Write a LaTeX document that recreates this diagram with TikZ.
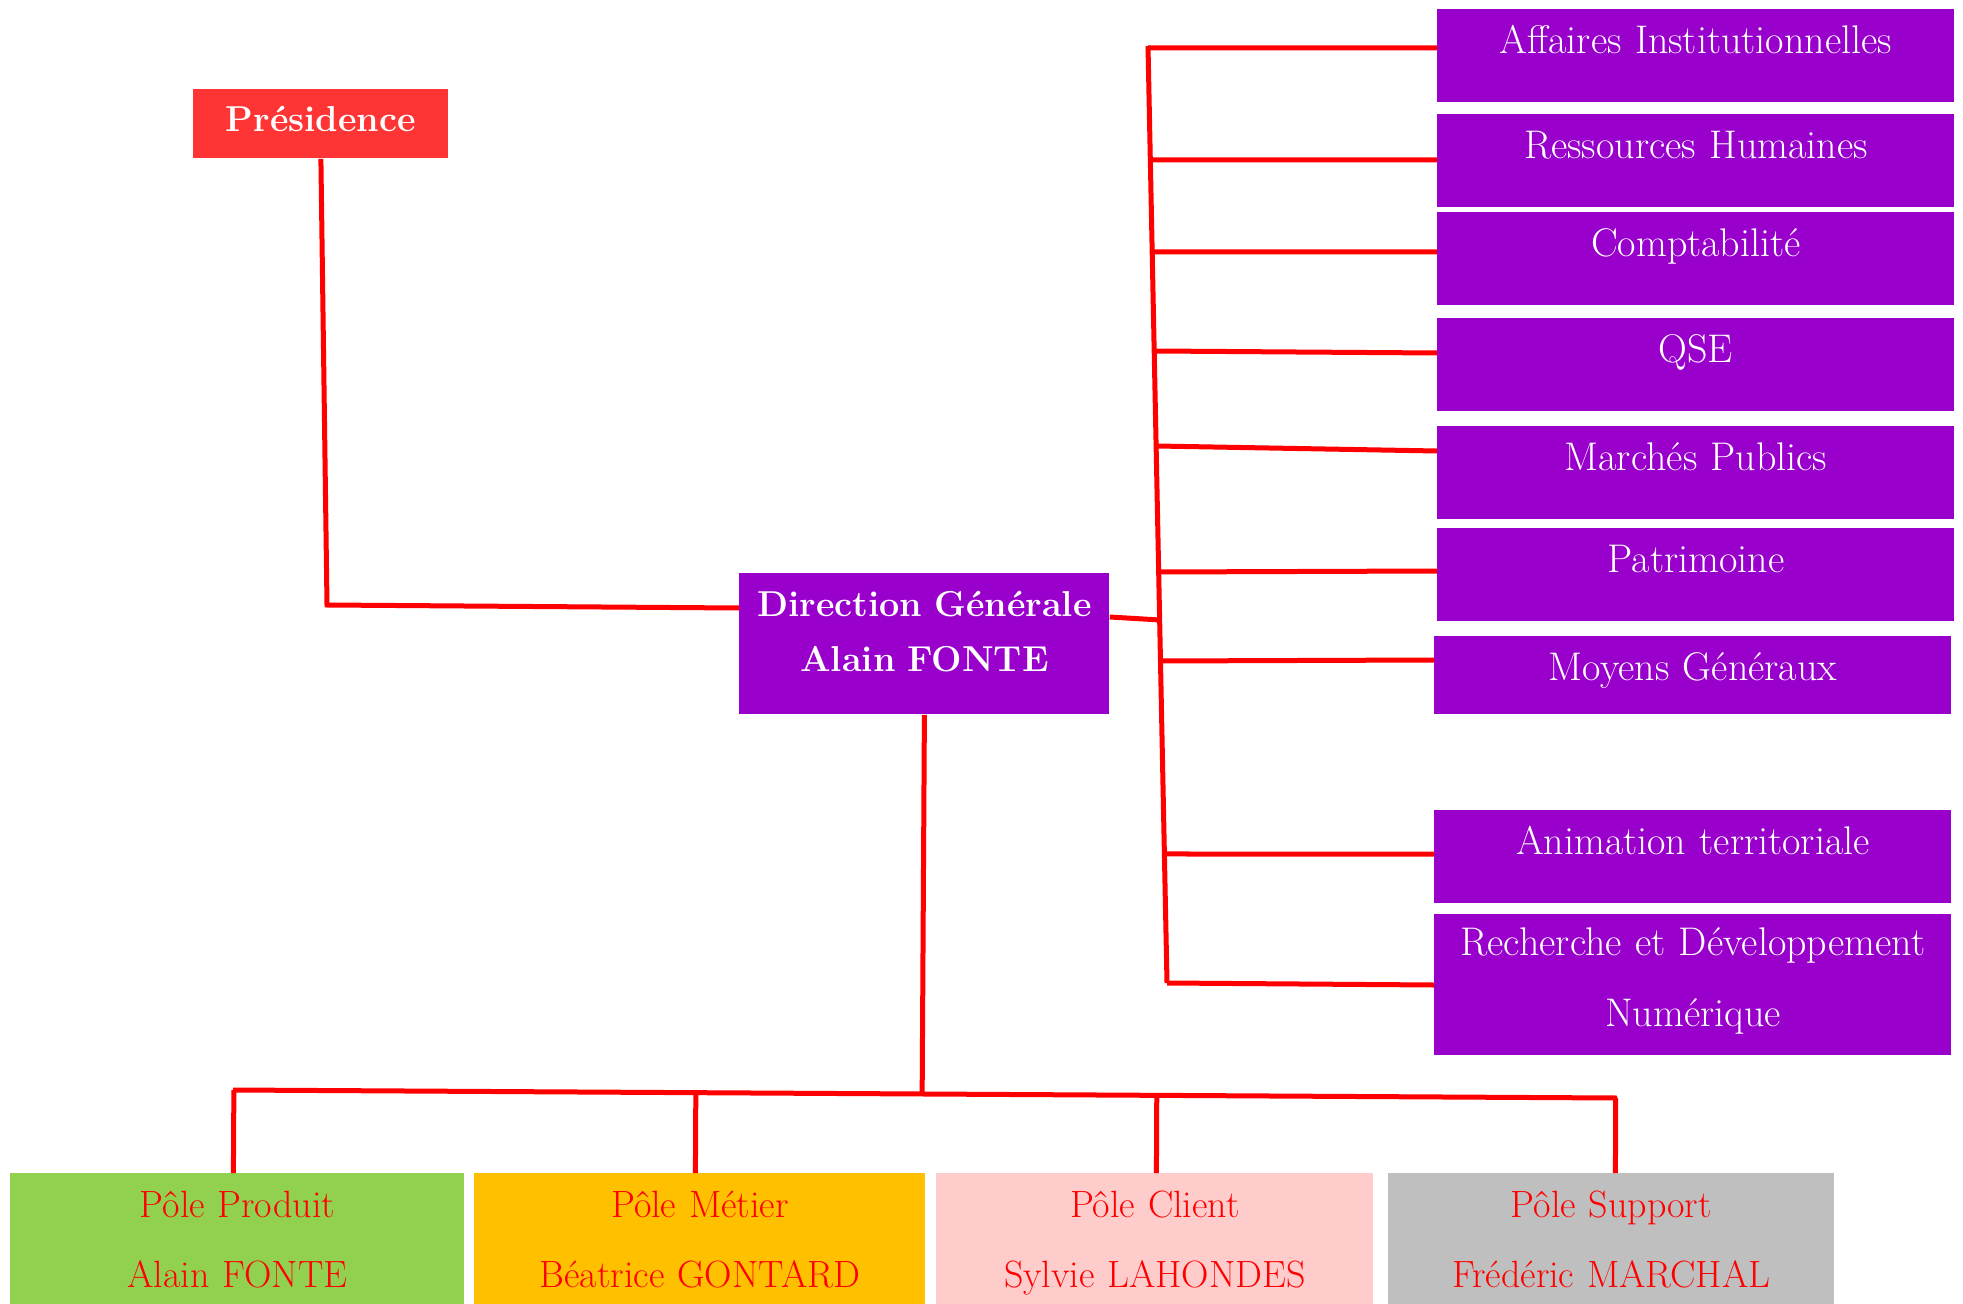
\documentclass[tikz,border=0pt]{standalone}
\usepackage{xcolor}
\usepackage{tikz}
\usetikzlibrary{calc}
\definecolor{presred}{HTML}{FF3535}
\definecolor{dirviolet}{HTML}{9900CC}
\definecolor{polegreen}{HTML}{92D050}
\definecolor{poleorange}{HTML}{FFC000}
\definecolor{polepink}{HTML}{FFCCCC}
\definecolor{polegrey}{HTML}{BFBFBF}
\definecolor{linkred}{HTML}{FF0000}

\begin{document}
\begin{tikzpicture}[x=0.5pt, y=-0.5pt,
                    link/.style={line width=2.5pt, linkred},
                    unit/.style={anchor=north west, inner sep=0pt, align=center,
                                 fill=dirviolet, text=white, text width=258.5pt,
                                 font=\fontsize{20}{22}\selectfont,
                                 text height=22pt, text depth=24.5pt},
                    chief/.style={unit, font=\bfseries\fontsize{18}{27.5}\selectfont},
                    pole/.style={unit, text=linkred, text depth=43.5pt,
                                 font=\fontsize{19}{35}\selectfont},
                   ]

\useasboundingbox (0,0) rectangle (1963,1304);

\node[chief, fill=presred, text width=127.5pt, text height=21pt, text depth=13.5pt] (pres) at (193,89) {Présidence};
\node[chief, text width=185pt, text height=21.5pt, text depth=49pt] (dg) at (739,573) {Direction Générale\\Alain FONTE};

% services
\node[unit] (aff)  at (1437,9)   {Affaires Institutionnelles};
\node[unit] (res)  at (1437,114) {Ressources Humaines};
\node[unit] (comp) at (1437,212) {Comptabilité};
\node[unit] (qse)  at (1437,318) {QSE};
\node[unit] (mar)  at (1437,426) {Marchés Publics};
\node[unit] (pat)  at (1437,528) {Patrimoine};
\node[unit, text depth=17pt] (moy) at (1434,636) {Moyens Généraux};
\node[unit] (ani)  at (1434,810) {Animation territoriale};
\node[unit, text height=20.5pt, text depth=50pt, font=\fontsize{20}{35.5}\selectfont] (rec) at (1434,914) {Recherche et Développement\\Numérique};

% poles
\node[pole, fill=polegreen,  text width=227pt]   (prod) at (10,1173)   {Pôle Produit\\Alain FONTE};
\node[pole, fill=poleorange, text width=225.5pt] (met)  at (474,1173)  {Pôle Métier\\Béatrice GONTARD};
\node[pole, fill=polepink,   text width=218.5pt] (cli)  at (936,1173)  {Pôle Client\\Sylvie LAHONDES};
\node[pole, fill=polegrey,   text width=223pt]   (sup)  at (1388,1173) {Pôle Support\\Frédéric MARCHAL};

\coordinate (bustop) at (1148,46);
\coordinate (busbot) at (1167,983);
\coordinate (lbus) at (233,1090);
\coordinate (rbus) at (1617,1098);
\coordinate (pcorner) at (327,605);

\draw[link] (pres.south) -- (pcorner) -- (dg.west |- 0,608);
\draw[link] (dg.east |- 0,617) -- ($(bustop)!{(620-46)/937}!(busbot)$);
\draw[link] (bustop) -- (busbot);
\foreach \b/\by/\ty in {aff/48/48, res/160/160, comp/252/252, qse/351/353, mar/446/451,
                        pat/572/571, moy/661/660, ani/854/854, rec/983/985}
  \draw[link] ($(bustop)!{(\by-46)/937}!(busbot)$) -- (\b.west |- 0,\ty);

\draw[link] (dg.south) -- ($(lbus)!(dg.south)!(rbus)$);
\draw[link] (lbus) -- (rbus);
\foreach \p/\dx in {prod/-2pt, met/-2.25pt, cli/0.75pt, sup/2pt}
  \draw[link] ($(lbus)!([xshift=\dx]\p.north)!(rbus)$) -- ([xshift=\dx]\p.north);

\end{tikzpicture}
\end{document}
